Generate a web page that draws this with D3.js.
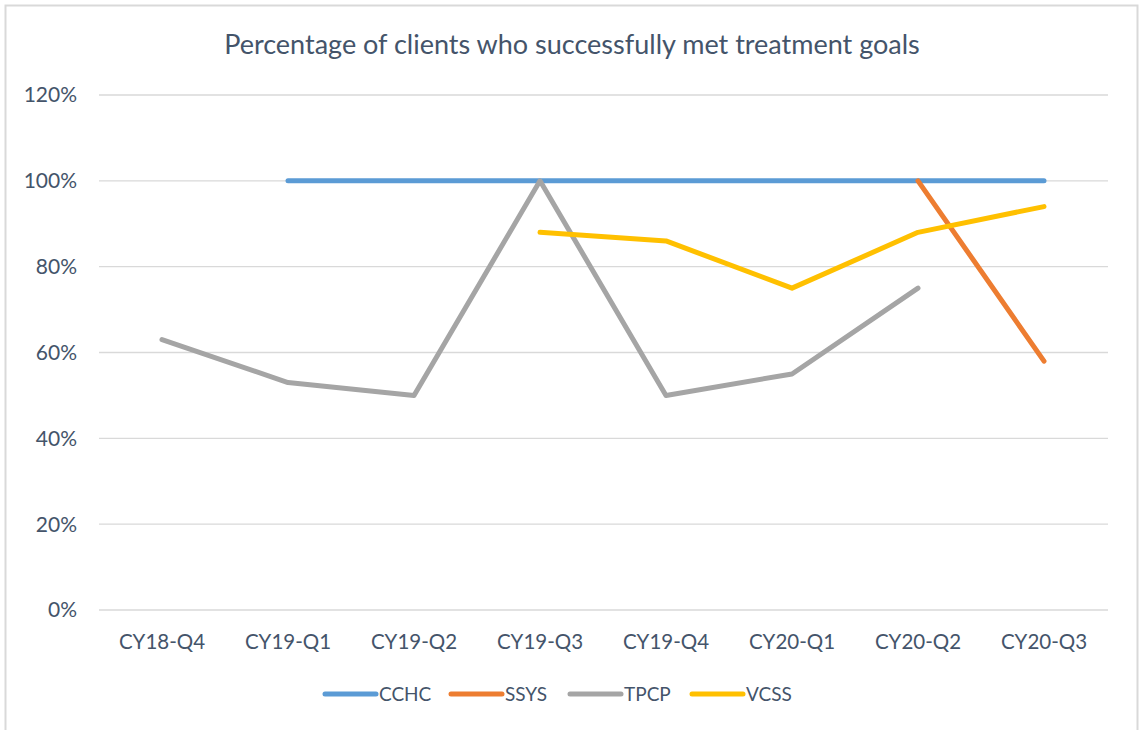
<!DOCTYPE html>
<html>
<head>
<meta charset="utf-8">
<script src="https://cdn.jsdelivr.net/npm/d3@7"></script>
<style>
  body { margin: 0; background: #fff; }
  svg text { font-family: Lato, "Open Sans", sans-serif; fill: #44546a; }
</style>
</head>
<body>
<script>
// chart data
var categories = ["CY18-Q4", "CY19-Q1", "CY19-Q2", "CY19-Q3", "CY19-Q4", "CY20-Q1", "CY20-Q2", "CY20-Q3"];
var seriesNames = ["CCHC", "SSYS", "TPCP", "VCSS"];
var cchc = [null, 100, 100, 100, 100, 100, 100, 100];
var ssys = [null, null, null, null, null, null, 100, 58];
var tpcp = [63, 53, 50, 100, 50, 55, 75, null];
var vcss = [null, null, null, 88, 86, 75, 88, 94];
var yTicks = [0, 20, 40, 60, 80, 100, 120];
var colors = ["#5b9bd5", "#ed7d31", "#a5a5a5", "#ffc000"];

window.onload = drawChart();

function drawChart(){
    var width = 1140,
        height = 730;

    var svg = d3.select("body")
        .append("svg")
        .attr("width", width)
        .attr("height", height);

    // outer frame
    svg.append("rect")
        .attr("x", 5.5).attr("y", 5.5)
        .attr("width", 1132).attr("height", 730)
        .attr("fill", "none")
        .attr("stroke", "#d9d9d9")
        .attr("stroke-width", 2);

    var x = d3.scaleBand()
        .domain(categories)
        .range([99, 1107]);

    var y = d3.scaleLinear()
        .domain([0, 120])
        .range([610, 95]);

    // gridlines
    svg.append("g")
        .selectAll("line")
        .data(yTicks)
        .enter()
        .append("line")
        .attr("x1", 99).attr("x2", 1108)
        .attr("y1", function(d){ return y(d); })
        .attr("y2", function(d){ return y(d); })
        .attr("stroke", "#d9d9d9")
        .attr("stroke-width", 1.3);

    // y labels
    svg.append("g")
        .selectAll("text")
        .data(yTicks)
        .enter()
        .append("text")
        .attr("x", 77)
        .attr("y", function(d){ return y(d); })
        .attr("dy", "0.35em")
        .attr("text-anchor", "end")
        .style("font-size", "21px")
        .text(function(d){ return d + "%"; });

    // x labels
    svg.append("g")
        .selectAll("text")
        .data(categories)
        .enter()
        .append("text")
        .attr("x", function(d){ return x(d) + x.bandwidth() / 2; })
        .attr("y", 649)
        .attr("text-anchor", "middle")
        .style("font-size", "20.5px")
        .text(function(d){ return d; });

    // title
    svg.append("text")
        .attr("x", 572)
        .attr("y", 54)
        .attr("text-anchor", "middle")
        .style("font-size", "27px")
        .text("Percentage of clients who successfully met treatment goals");

    var line = d3.line()
        .defined(function(d){ return d != null; })
        .x(function(d, i){ return x(categories[i]) + x.bandwidth() / 2; })
        .y(function(d){ return y(d); });

    var allSeries = [cchc, ssys, tpcp, vcss];

    svg.append("g")
        .selectAll("path")
        .data(allSeries)
        .enter()
        .append("path")
        .attr("d", line)
        .attr("fill", "none")
        .attr("stroke", function(d, i){ return colors[i]; })
        .attr("stroke-width", 5)
        .attr("stroke-linecap", "round")
        .attr("stroke-linejoin", "round");

    // legend
    var legendX = [325, 451, 570, 692];
    var legend = svg.append("g")
        .selectAll("g")
        .data(seriesNames)
        .enter()
        .append("g")
        .attr("transform", function(d, i){ return "translate(" + legendX[i] + ",694)"; });

    legend.append("line")
        .attr("x1", 0).attr("x2", 51)
        .attr("stroke", function(d, i){ return colors[i]; })
        .attr("stroke-width", 5)
        .attr("stroke-linecap", "round");

    legend.append("text")
        .attr("x", 54)
        .attr("dy", "0.36em")
        .style("font-size", "19px")
        .text(function(d){ return d; });
}
</script>
</body>
</html>
